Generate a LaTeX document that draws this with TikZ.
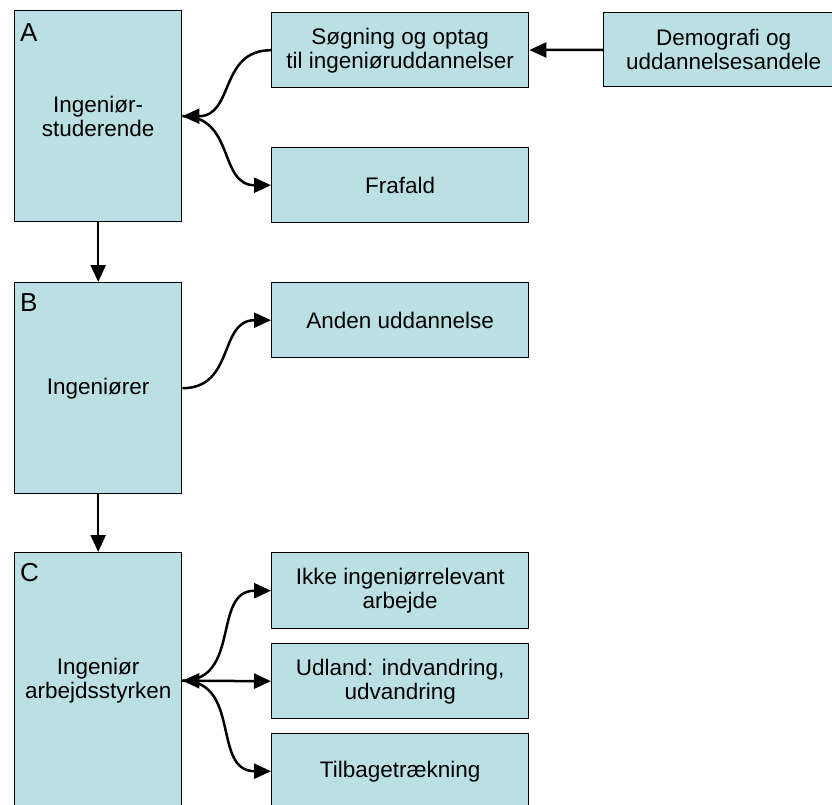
\documentclass[tikz,border=0pt]{standalone}
\usepackage{fontspec}
\setmainfont{Liberation Sans}
\usetikzlibrary{arrows.meta}
\definecolor{boxfill}{RGB}{187,224,227}

\begin{document}
\begin{tikzpicture}[x=1pt, y=-1pt, >={Triangle[length=17pt,width=15pt]},
    box/.style = {draw, line width=1.4pt, fill=boxfill, align=center, anchor=north west, inner sep=0pt, font=\fontsize{22.5}{24}\selectfont},
    main/.style = {box, minimum width=167pt},
    side/.style = {box, minimum width=257pt, minimum height=75pt},
    letter/.style = {anchor=north west, inner sep=0pt, font=\fontsize{26}{26}\selectfont}]
  \useasboundingbox (0,0) rectangle (832,805);
  \clip (0,0) rectangle (832,805);

  % Nodes
  \node[main, minimum height=211pt] (stud) at (14,10) {Ingeniør-\\studerende};
  \node[main, minimum height=211pt] (ing) at (14,282) {Ingeniører};
  \node[main, minimum height=256pt] (arb) at (14,552) {Ingeniør\\arbejdsstyrken};
  \node[letter] (la) at ([xshift=6pt,yshift=-13pt]stud.north west) {A};
  \node[letter] (lb) at ([xshift=6pt,yshift=-11pt]ing.north west) {B};
  \node[letter] (lc) at ([xshift=6pt,yshift=-11pt]arb.north west) {C};

  \node[side] (soeg) at (271,12) {Søgning og optag\\til ingeniøruddannelser};
  \node[side, minimum width=240pt, minimum height=74pt] (demo) at (603,12) {Demografi og\\uddannelsesandele};
  \node[side] (fraf) at (271,147) {Frafald};
  \node[side] (anden) at (271,282) {Anden uddannelse};
  \node[side, minimum height=76pt] (ikke) at (271,552) {Ikke ingeniørrelevant\\arbejde};
  \node[side] (udl) at (271,643) {Udland: indvandring,\\udvandring};
  \node[side] (tilb) at (271,733) {Tilbagetrækning};

  % Lines
  \draw[->, line width=2.5pt] (stud) -- (ing);
  \draw[->, line width=2.5pt] (ing) -- (arb);
  \draw[->, line width=2.5pt] (demo) -- (soeg);

  % Curves
  \draw[->, line width=2.5pt] (soeg.west) to[out=180, in=0, looseness=1.2] (stud.east);
  \draw[->, line width=2.5pt] (stud.east) to[out=0, in=180, looseness=1.2] (fraf.west);
  \draw[->, line width=2.5pt] (ing.east) to[out=0, in=180, looseness=1.2] (anden.west);
  \draw[->, line width=2.5pt] (arb.east) to[out=0, in=180, looseness=1.2] (ikke.west);
  \draw[<->, line width=2.5pt] (arb.east) -- (udl.west);
  \draw[->, line width=2.5pt] (arb.east) to[out=0, in=180, looseness=1.2] (tilb.west);
\end{tikzpicture}
\end{document}
